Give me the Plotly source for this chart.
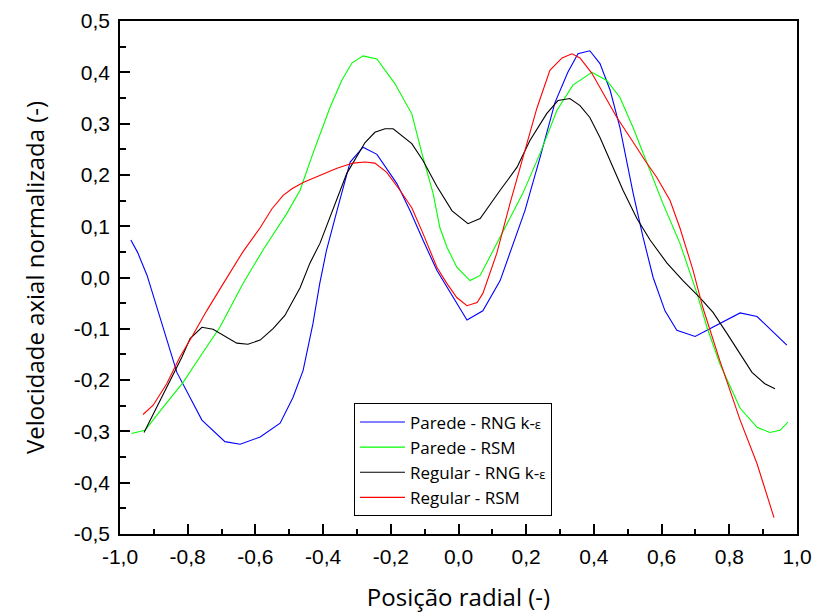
import plotly.graph_objects as go

# ---- data ----
parede_rng_x = [-0.968, -0.948, -0.92, -0.832, -0.758, -0.69, -0.645, -0.586, -0.527, -0.489, -0.459, -0.43, -0.41, -0.39, -0.355, -0.32, -0.282, -0.241, -0.182, -0.143, -0.105, -0.064, 0.025, 0.072, 0.123, 0.196, 0.241, 0.285, 0.323, 0.353, 0.388, 0.418, 0.448, 0.477, 0.516, 0.545, 0.575, 0.61, 0.645, 0.699, 0.734, 0.832, 0.882, 0.97]
parede_rng_y = [0.073, 0.049, 0.004, -0.185, -0.278, -0.32, -0.325, -0.311, -0.284, -0.234, -0.181, -0.09, -0.012, 0.053, 0.14, 0.225, 0.254, 0.24, 0.183, 0.13, 0.073, 0.014, -0.083, -0.065, -0.006, 0.13, 0.234, 0.341, 0.40, 0.436, 0.442, 0.417, 0.365, 0.292, 0.164, 0.079, 0.0, -0.065, -0.103, -0.115, -0.103, -0.069, -0.076, -0.132]

parede_rsm_x = [-0.966, -0.926, -0.873, -0.814, -0.764, -0.705, -0.637, -0.578, -0.507, -0.468, -0.43, -0.38, -0.345, -0.315, -0.282, -0.241, -0.188, -0.138, -0.108, -0.075, -0.055, -0.034, -0.005, 0.034, 0.064, 0.113, 0.19, 0.241, 0.291, 0.338, 0.394, 0.438, 0.477, 0.516, 0.556, 0.604, 0.654, 0.705, 0.734, 0.772, 0.832, 0.882, 0.92, 0.95, 0.973]
parede_rsm_y = [-0.304, -0.298, -0.253, -0.205, -0.155, -0.097, -0.012, 0.053, 0.125, 0.17, 0.242, 0.331, 0.384, 0.418, 0.432, 0.426, 0.378, 0.319, 0.242, 0.164, 0.097, 0.059, 0.02, -0.006, 0.004, 0.067, 0.164, 0.242, 0.326, 0.375, 0.40, 0.384, 0.351, 0.292, 0.223, 0.144, 0.067, -0.032, -0.097, -0.168, -0.255, -0.292, -0.302, -0.298, -0.282]

regular_rng_x = [-0.929, -0.891, -0.852, -0.817, -0.793, -0.758, -0.725, -0.684, -0.655, -0.622, -0.586, -0.547, -0.513, -0.468, -0.439, -0.409, -0.37, -0.33, -0.276, -0.247, -0.217, -0.193, -0.138, -0.105, -0.064, -0.019, 0.028, 0.064, 0.123, 0.173, 0.211, 0.261, 0.294, 0.329, 0.359, 0.388, 0.418, 0.448, 0.486, 0.527, 0.566, 0.616, 0.663, 0.713, 0.752, 0.793, 0.832, 0.867, 0.905, 0.935]
regular_rng_y = [-0.302, -0.253, -0.201, -0.155, -0.119, -0.097, -0.101, -0.117, -0.128, -0.13, -0.122, -0.099, -0.074, -0.02, 0.028, 0.067, 0.136, 0.203, 0.263, 0.283, 0.29, 0.29, 0.261, 0.228, 0.178, 0.13, 0.105, 0.115, 0.17, 0.215, 0.267, 0.32, 0.345, 0.349, 0.335, 0.312, 0.273, 0.228, 0.17, 0.115, 0.073, 0.028, -0.006, -0.039, -0.068, -0.109, -0.148, -0.185, -0.207, -0.217]

regular_rsm_x = [-0.932, -0.902, -0.862, -0.823, -0.788, -0.744, -0.695, -0.637, -0.586, -0.551, -0.518, -0.492, -0.459, -0.409, -0.359, -0.312, -0.276, -0.247, -0.212, -0.173, -0.138, -0.105, -0.064, -0.034, -0.005, 0.025, 0.055, 0.072, 0.113, 0.152, 0.19, 0.232, 0.27, 0.306, 0.335, 0.359, 0.394, 0.427, 0.468, 0.507, 0.551, 0.586, 0.625, 0.654, 0.693, 0.722, 0.772, 0.832, 0.882, 0.932]
regular_rsm_y = [-0.267, -0.249, -0.207, -0.155, -0.116, -0.065, -0.012, 0.05, 0.097, 0.134, 0.16, 0.173, 0.185, 0.199, 0.213, 0.223, 0.225, 0.223, 0.205, 0.17, 0.136, 0.086, 0.02, -0.012, -0.039, -0.055, -0.049, -0.031, 0.047, 0.144, 0.234, 0.331, 0.404, 0.428, 0.436, 0.428, 0.398, 0.359, 0.312, 0.273, 0.228, 0.195, 0.15, 0.097, 0.014, -0.059, -0.162, -0.278, -0.363, -0.468]

series_names = ["Parede - RNG k-<span style='font-size:13px'>ε</span>",
                "Parede - RSM",
                "Regular - RNG k-<span style='font-size:13px'>ε</span>",
                "Regular - RSM"]
series_colors = ["#0000FF", "#00FF00", "#000000", "#FF0000"]

x_tickvals = [-1.0, -0.8, -0.6, -0.4, -0.2, 0.0, 0.2, 0.4, 0.6, 0.8, 1.0]
x_ticktext = ["-1,0", "-0,8", "-0,6", "-0,4", "-0,2", "0,0", "0,2", "0,4", "0,6", "0,8", "1,0"]
y_tickvals = [-0.5, -0.4, -0.3, -0.2, -0.1, 0.0, 0.1, 0.2, 0.3, 0.4, 0.5]
y_ticktext = ["-0,5", "-0,4", "-0,3", "-0,2", "-0,1", "0,0", "0,1", "0,2", "0,3", "0,4", "0,5"]

x_title = "Posição radial (-)"
y_title = "Velocidade axial normalizada (-)"

# ---- figure ----
fig = go.Figure()
all_x = [parede_rng_x, parede_rsm_x, regular_rng_x, regular_rsm_x]
all_y = [parede_rng_y, parede_rsm_y, regular_rng_y, regular_rsm_y]
for xs, ys, nm, col in zip(all_x, all_y, series_names, series_colors):
    fig.add_trace(go.Scatter(x=xs, y=ys, mode="lines", name=nm,
                             line=dict(color=col, width=1.1)))

tick_font = dict(family="Liberation Sans", size=21, color="#000000")
title_font = dict(family="Open Sans", size=24, color="#000000")

fig.update_layout(
    width=814, height=613,
    margin=dict(l=120, r=17, t=21, b=79, autoexpand=False),
    paper_bgcolor="white", plot_bgcolor="white",
    showlegend=True,
    legend=dict(x=0.3456, y=0.2544, xanchor="left", yanchor="top",
                bordercolor="#000000", borderwidth=1, bgcolor="white",
                font=dict(family="Open Sans", size=17, color="#000000"),
                tracegroupgap=0, itemwidth=45),
    xaxis=dict(range=[-1.0, 1.0], tickvals=x_tickvals, ticktext=x_ticktext,
               ticks="inside", ticklen=10, tickwidth=1.5, tickcolor="#000000",
               showline=True, linecolor="#000000", linewidth=1.5, mirror=True,
               showgrid=False, zeroline=False, tickfont=tick_font, automargin=False,
               ticklabelstandoff=3,
               minor=dict(dtick=0.1, ticks="inside", ticklen=5, tickwidth=1.5,
                          tickcolor="#000000", showgrid=False),
               title=dict(text=x_title, font=title_font, standoff=24)),
    yaxis=dict(range=[-0.5, 0.5], tickvals=y_tickvals, ticktext=y_ticktext,
               ticks="inside", ticklen=10, tickwidth=1.5, tickcolor="#000000",
               showline=True, linecolor="#000000", linewidth=1.5, mirror=True,
               showgrid=False, zeroline=False, tickfont=tick_font, automargin=False,
               ticklabelstandoff=4,
               minor=dict(dtick=0.05, ticks="inside", ticklen=6, tickwidth=1.5,
                          tickcolor="#000000", showgrid=False),
               title=dict(text=y_title, font=title_font, standoff=22)),
)

fig.write_html("out.html")
